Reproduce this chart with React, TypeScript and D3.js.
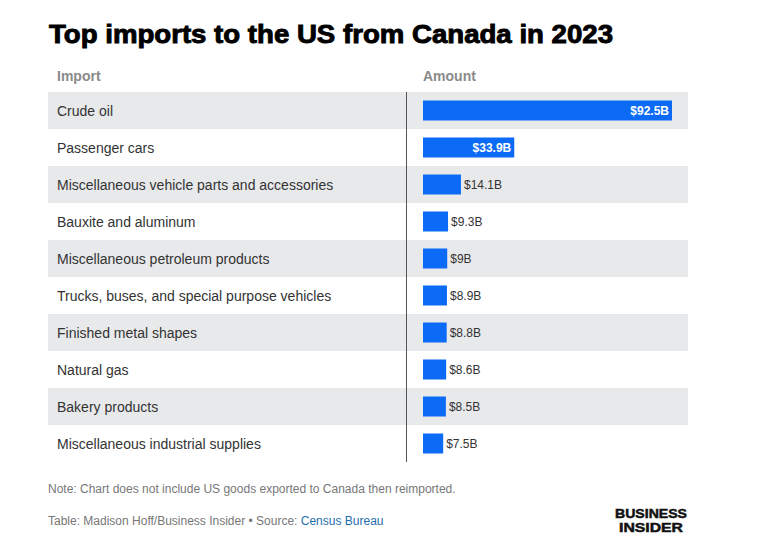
import React from "react";
import * as d3 from "d3";

const categories = [
  "Crude oil",
  "Passenger cars",
  "Miscellaneous vehicle parts and accessories",
  "Bauxite and aluminum",
  "Miscellaneous petroleum products",
  "Trucks, buses, and special purpose vehicles",
  "Finished metal shapes",
  "Natural gas",
  "Bakery products",
  "Miscellaneous industrial supplies",
];
const amounts = [92.5, 33.9, 14.1, 9.3, 9.0, 8.9, 8.8, 8.6, 8.5, 7.5];
const amountLabels = ["$92.5B", "$33.9B", "$14.1B", "$9.3B", "$9B", "$8.9B", "$8.8B", "$8.6B", "$8.5B", "$7.5B"];

const W = 761, H = 551;
const FONT = "'Liberation Sans', Arial, sans-serif";

export default function App() {
  const y = d3.scaleBand<number>().domain(d3.range(categories.length)).range([92, 462]).padding(0);
  const x = d3.scaleLinear().domain([0, 92.5]).range([423, 672]);
  const barH = 20;
  return (
    <svg width={W} height={H} style={{ position: "absolute", left: 0, top: 0, background: "#fff" }} fontFamily={FONT}>
      <rect width={W} height={H} fill="#fff" />
      <text x={49} y={43} fontSize={25} fontWeight={900} fill="#000" stroke="#000" strokeWidth={0.9} textLength={564} lengthAdjust="spacingAndGlyphs">
        Top imports to the US from Canada in 2023
      </text>
      <text x={57} y={81} fontSize={14} fontWeight={700} fill="#8a8a8a">Import</text>
      <text x={423} y={81} fontSize={14} fontWeight={700} fill="#8a8a8a">Amount</text>
      {categories.map((c, i) => {
        const top = y(i)!;
        const bw = y.bandwidth();
        const inside = x(amounts[i]) - x(0) > 70;
        return (
          <g key={c}>
            {i % 2 === 0 && <rect x={48} y={top} width={640} height={bw} fill="#e8e9eb" />}
            <text x={57} y={top + bw / 2 + 5} fontSize={14} fill="#333">{c}</text>
            <rect x={x(0)} y={top + (bw - barH) / 2} width={x(amounts[i]) - x(0)} height={barH} fill="#0b6bf6" />
            {inside ? (
              <text x={x(amounts[i]) - 3} y={top + bw / 2 + 4} fontSize={12} fontWeight={700} fill="#fff" textAnchor="end">
                {amountLabels[i]}
              </text>
            ) : (
              <text x={x(amounts[i]) + 3} y={top + bw / 2 + 4} fontSize={12} fill="#333">
                {amountLabels[i]}
              </text>
            )}
          </g>
        );
      })}
      <line x1={406.5} x2={406.5} y1={92} y2={462} stroke="#555" strokeWidth={1} />
      <text x={48} y={493} fontSize={12} fill="#777">Note: Chart does not include US goods exported to Canada then reimported.</text>
      <text x={48} y={525} fontSize={12} fill="#777">
        Table: Madison Hoff/Business Insider • Source: <tspan fill="#1f6fae">Census Bureau</tspan>
      </text>
      <text x={651} y={518} fontSize={13} fontWeight={900} fill="#111" stroke="#111" strokeWidth={0.5} textAnchor="middle" textLength={72} lengthAdjust="spacingAndGlyphs">BUSINESS</text>
      <text x={651} y={532} fontSize={13} fontWeight={900} fill="#111" stroke="#111" strokeWidth={0.5} textAnchor="middle" textLength={64} lengthAdjust="spacingAndGlyphs">INSIDER</text>
    </svg>
  );
}
